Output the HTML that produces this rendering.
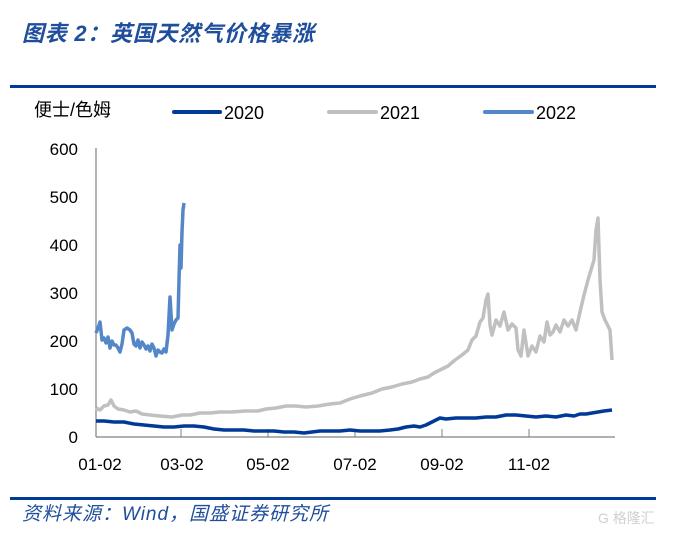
<!DOCTYPE html>
<html><head><meta charset="utf-8"><style>
body{margin:0;background:#fff;width:675px;height:532px;overflow:hidden;font-family:"Liberation Sans","Noto Sans CJK SC",sans-serif}
</style></head><body>
<svg width="675" height="532" viewBox="0 0 675 532" xmlns="http://www.w3.org/2000/svg" font-family="Liberation Sans, Noto Sans CJK SC, sans-serif">
<text x="22" y="41" font-size="22" font-weight="bold" font-style="italic" fill="#1f4e9c" textLength="292" font-family="Liberation Sans, Noto Sans CJK SC, sans-serif">图表 2：英国天然气价格暴涨</text>
<rect x="10" y="85" width="646" height="3" fill="#003b9a"/>
<text x="34" y="116" font-size="18" fill="#000">便士/色姆</text>
<line x1="174" y1="112" x2="220" y2="112" stroke="#003a96" stroke-width="4" stroke-linecap="round"/>
<text x="224" y="119" font-size="18" fill="#000">2020</text>
<line x1="329" y1="112" x2="376" y2="112" stroke="#c0c0c0" stroke-width="4" stroke-linecap="round"/>
<text x="380" y="119" font-size="18" fill="#000">2021</text>
<line x1="485" y1="112" x2="532" y2="112" stroke="#5487c8" stroke-width="4" stroke-linecap="round"/>
<text x="536" y="119" font-size="18" fill="#000">2022</text>
<g font-size="17" fill="#000" text-anchor="end">
<text x="78" y="155">600</text><text x="78" y="203">500</text><text x="78" y="251">400</text>
<text x="78" y="299">300</text><text x="78" y="347">200</text><text x="78" y="395">100</text><text x="78" y="443">0</text>
</g>
<line x1="96" y1="148" x2="96" y2="437" stroke="#808080" stroke-width="1.2"/>
<line x1="96" y1="437" x2="615" y2="437" stroke="#808080" stroke-width="1.2"/>
<g stroke="#808080"><line x1="181" y1="437" x2="181" y2="429"/><line x1="268" y1="437" x2="268" y2="429"/><line x1="355" y1="437" x2="355" y2="429"/><line x1="442" y1="437" x2="442" y2="429"/><line x1="529" y1="437" x2="529" y2="429"/></g>
<g font-size="17" fill="#000" text-anchor="middle">
<text x="100" y="470">01-02</text><text x="182" y="470">03-02</text><text x="268" y="470">05-02</text>
<text x="355" y="470">07-02</text><text x="442" y="470">09-02</text><text x="529" y="470">11-02</text>
</g>
<polyline fill="none" stroke="#c0c0c0" stroke-width="3.5" stroke-linejoin="round" points="96,408 100,410 104,406 108,405 111,400 114,406 118,409 124,410 130,412 136,411 142,414 150,415 160,416 172,417 182,415 190,415 200,413 210,413 220,412 232,412 245,411 258,411 266,409 276,408 286,406 296,406 306,407 318,406 330,404 340,403 350,399 360,396 372,393 382,389 392,387 402,384 412,382 420,379 428,377 434,373 440,370 448,366 455,360 462,355 468,350 472,340 476,336 480,322 483,318 486,300 488,294 490,325 492,335 496,320 500,326 504,312 508,330 512,324 516,328 518,350 521,356 524,330 528,356 532,346 536,352 540,336 544,342 547,322 550,335 553,332 556,325 560,332 564,320 568,326 572,320 576,330 580,312 584,295 588,280 591,270 594,260 596,230 598,218 600,280 602,312 605,320 608,326 610,330 612,360"/>
<polyline fill="none" stroke="#5487c8" stroke-width="3.5" stroke-linejoin="round" points="96,333 98,328 100,322 102,340 104,338 106,343 108,337 110,348 112,341 114,345 116,345 118,348 120,352 122,344 124,330 127,328 130,330 132,333 134,344 136,346 138,340 140,348 142,342 144,345 146,349 148,346 150,351 152,344 154,348 156,356 158,350 160,352 162,353 164,349 166,352 168,335 170,297 172,330 174,324 176,320 178,318 179,280 180,245 181,268 182,232 183,210 184,203"/>
<polyline fill="none" stroke="#003a96" stroke-width="3.5" stroke-linejoin="round" points="96,421 104,421 114,422 124,422 134,424 144,425 154,426 164,427 174,427 184,426 194,426 204,427 214,429 224,430 234,430 244,430 254,431 264,431 274,431 284,432 294,432 304,433 312,432 320,431 330,431 340,431 350,430 360,431 370,431 380,431 390,430 398,429 406,427 414,426 420,427 426,425 432,422 436,420 440,418 446,419 456,418 466,418 476,418 486,417 496,417 506,415 516,415 526,416 536,417 546,416 556,417 566,415 574,416 580,414 586,414 592,413 598,412 604,411 612,410"/>
<rect x="10" y="497" width="646" height="3" fill="#003b9a"/>
<text x="22" y="520" font-size="19" font-style="italic" fill="#1f4e9c" textLength="306">资料来源：Wind，国盛证券研究所</text>
<text x="598" y="523" font-size="14" fill="#d0d0d0">G 格隆汇</text>
</svg>
</body></html>
